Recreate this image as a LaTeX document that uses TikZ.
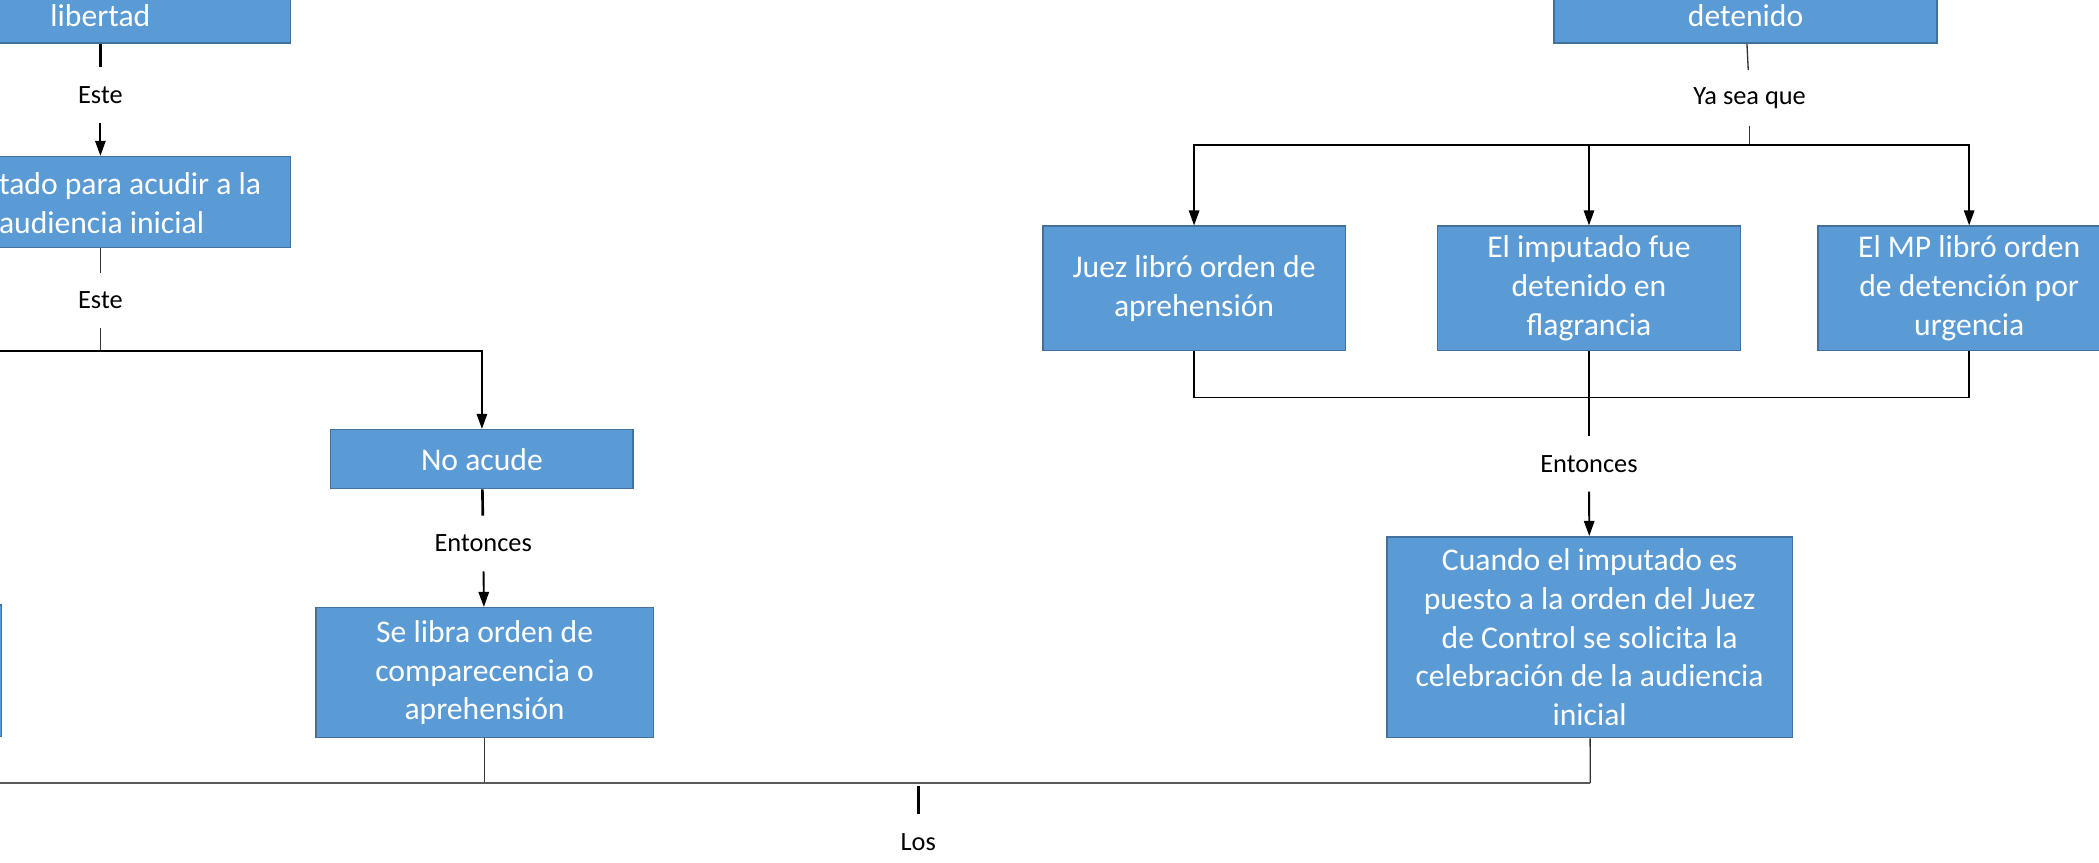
\documentclass[tikz,border=0pt]{standalone}
\usepackage{fontspec}
\setmainfont{Carlito}
\usetikzlibrary{arrows.meta}
\definecolor{boxfill}{HTML}{5B9BD5}
\definecolor{boxline}{HTML}{41719C}
\definecolor{wire}{HTML}{595959}
\tikzstyle{box}=[draw=boxline, fill=boxfill, line width=0.8pt, text=white, align=center, inner sep=0pt, font=\fontsize{16.8}{20.6}\selectfont]
\tikzstyle{boxtext}=[text=white, align=left, inner sep=0pt, font=\fontsize{16.8}{20.6}\selectfont]
\tikzstyle{tag}=[inner sep=0pt, minimum height=1.025cm, font=\fontsize{14}{16}\selectfont]
\tikzstyle{fine}=[line width=0.7pt, draw=black!80]
\tikzstyle{heavy}=[line width=1.4pt]
\tikzstyle{link}=[line width=0.9pt]
\tikzstyle{flow}=[line width=1pt, -{Triangle[length=8pt, width=5.5pt]}]
\tikzstyle{bus}=[line width=1.3pt, draw=wire]
\begin{document}
\begin{tikzpicture}[x=0.025cm, y=-0.025cm]
        \useasboundingbox (0,0) rectangle (1568,644);
        \clip (0,0) rectangle (1568,644);
        % left branch
        \node[box, minimum width=7.1cm, minimum height=1cm] (libertad) at (75,12) {libertad};
        \node[tag] (este1) at (75,71) {Este};
        \node[box, minimum width=7.1cm, minimum height=1.7cm] (cita) at (75,151) {};
        \node[boxtext, anchor=west] (citatxt) at (-1,152) {tado para acudir a la\\audiencia inicial};
        \node[tag] (este2) at (75,224.5) {Este};
        \node[box, minimum width=5.65cm, minimum height=1.1cm] (noacude) at (360,343) {No acude};
        \node[tag] (ent1) at (361,406) {Entonces};
        \node[box, minimum width=6.3cm, minimum height=2.425cm] (selibra) at (362,502.5) {Se libra orden de\\comparecencia o\\aprehensión};
        \node[box, minimum width=5.05cm, minimum height=2.45cm] (leftbox) at (-100,501) {};
        % right branch
        \node[box, minimum width=7.15cm, minimum height=1cm] (detenido) at (1304,12) {detenido};
        \node[tag] (yasea) at (1307,73) {Ya sea que};
        \node[box, minimum width=5.65cm, minimum height=2.325cm] (juez) at (892,215.5) {Juez libró orden de\\aprehensión};
        \node[box, minimum width=5.65cm, minimum height=2.325cm] (flag) at (1187,215.5) {El imputado fue\\detenido en\\flagrancia};
        \node[box, minimum width=5.65cm, minimum height=2.325cm] (mp) at (1471,215.5) {El MP libró orden\\de detención por\\urgencia};
        \node[tag] (ent2) at (1187,346.5) {Entonces};
        \node[box, minimum width=7.575cm, minimum height=3.75cm] (cuando) at (1187.5,476) {Cuando el imputado es\\puesto a la orden del Juez\\de Control se solicita la\\celebración de la audiencia\\inicial};
        \node[tag] (los) at (686,629) {Los};
        % junctions
        \coordinate (jcita) at (75,262);
        \coordinate (jleft) at (-150,262);
        \coordinate (jnoacude) at (360,262);
        \coordinate (jyasea) at (1307,108);
        \coordinate (jrow) at (1187,297);
        \coordinate (jbotleft) at (-150,585);
        \coordinate (jselibra) at (362,585);
        \coordinate (jcuando) at (1188,585);
        \coordinate (jlos) at (686,587);
        % connectors
        \draw[heavy] (libertad) -- (este1);
        \draw[flow] (este1) -- (cita);
        \draw[fine] (cita) -- (este2);
        \draw[fine] (este2) -- (jcita);
        \draw[flow] (jleft) -- (jnoacude) -- (noacude);
        \draw[heavy] (noacude) -- (ent1);
        \draw[flow] (ent1) -- (selibra);
        \draw[fine] (detenido) -- (yasea);
        \draw[fine] (yasea) -- (jyasea);
        \draw[flow] (jyasea) -| (juez);
        \draw[flow] (jyasea) -| (flag);
        \draw[flow] (jyasea) -| (mp);
        \draw[link] (juez) |- (jrow) -| (mp);
        \draw[heavy] (flag) -- (ent2);
        \draw[flow] (ent2) -- (cuando);
        \draw[fine] (selibra) -- (jselibra);
        \draw[fine] (cuando) -- (jcuando);
        \draw[bus] (jbotleft) -- (jcuando);
        \draw[heavy] (jlos) -- (los);
    \end{tikzpicture}
\end{document}
